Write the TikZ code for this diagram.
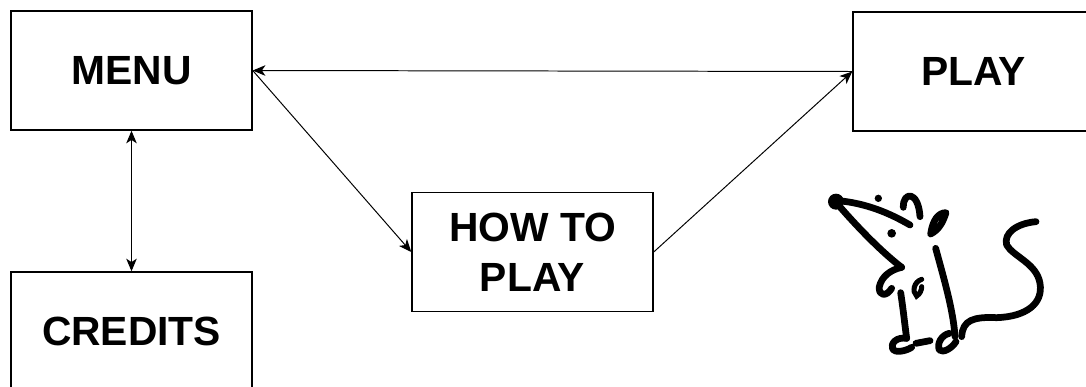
\documentclass[tikz,border=0pt]{standalone}
\usepackage{fontspec}
\setmainfont{Liberation Sans}
\usetikzlibrary{arrows.meta}

\begin{document}
\begin{tikzpicture}[x=0.025cm,y=-0.025cm,
  screen/.style={draw,line width=1pt,minimum width=6.025cm,minimum height=2.975cm,inner sep=0pt,align=center,font=\fontsize{29}{35.5}\selectfont\bfseries},
  tip/.tip={Stealth[length=9pt,width=7.5pt,inset=2.5pt]},
  arr/.style={-tip,line width=0.7pt},
  brush/.style={line width=4.8pt,line cap=round,line join=round}
]
\useasboundingbox (0,0) rectangle (1086,387);
\clip (0,0) rectangle (1086,387);

% screens of the game
\node[screen] (menu) at (131.5,70.5) {MENU};
\node[screen] (credits) at (131.5,331.5) {CREDITS};
\node[screen] (howto) at (532.5,252) {HOW TO\\PLAY};
\node[screen] (play) at (973.5,71.5) {PLAY};

\draw[arr] (play.west) -- (menu.east);
\draw[arr] (menu.east) -- (howto.west);
\draw[arr] (howto.east) -- (play.west);
\draw[arr,tip-tip] (menu.south) -- (credits.north);

% little mouse, brush strokes
\begin{scope}[shift={(810,170)},scale=1/3]
\fill (78,95) circle[radius=24];
\fill (205,85) circle[radius=11];
\fill (245,190) circle[radius=13];
\draw[brush] (85,92) .. controls (170,100) and (240,130) .. (300,165);
\draw[brush] (280,112) .. controls (278,65) and (325,60) .. (330,140);
\draw[brush] (362,192) .. controls (368,150) and (385,128) .. (408,128) .. controls (398,160) and (385,180) .. (362,192);
\draw[brush] (85,105) .. controls (150,180) and (220,250) .. (275,292);
\draw[brush] (275,292) .. controls (240,300) and (215,320) .. (208,350) .. controls (205,380) and (230,380) .. (245,355);
\draw[brush] (272,368) .. controls (280,420) and (285,470) .. (290,505);
\draw[brush] (290,505) .. controls (260,500) and (240,520) .. (248,538) .. controls (255,548) and (285,545) .. (305,532);
\draw[line width=3.6pt,line cap=round] (335,328) .. controls (312,335) and (305,365) .. (320,378) .. controls (330,372) and (335,360) .. (335,350);
\draw[brush] (377,235) .. controls (400,320) and (430,420) .. (435,500);
\draw[brush] (318,520) -- (360,512);
\draw[brush] (418,490) .. controls (395,495) and (380,520) .. (388,540) .. controls (400,550) and (425,535) .. (438,515);
\draw[brush] (455,500) .. controls (458,450) and (490,440) .. (560,443) .. controls (650,440) and (700,400) .. (690,340) .. controls (680,280) and (610,260) .. (590,225) .. controls (580,190) and (620,160) .. (678,155);
\end{scope}
\end{tikzpicture}
\end{document}
